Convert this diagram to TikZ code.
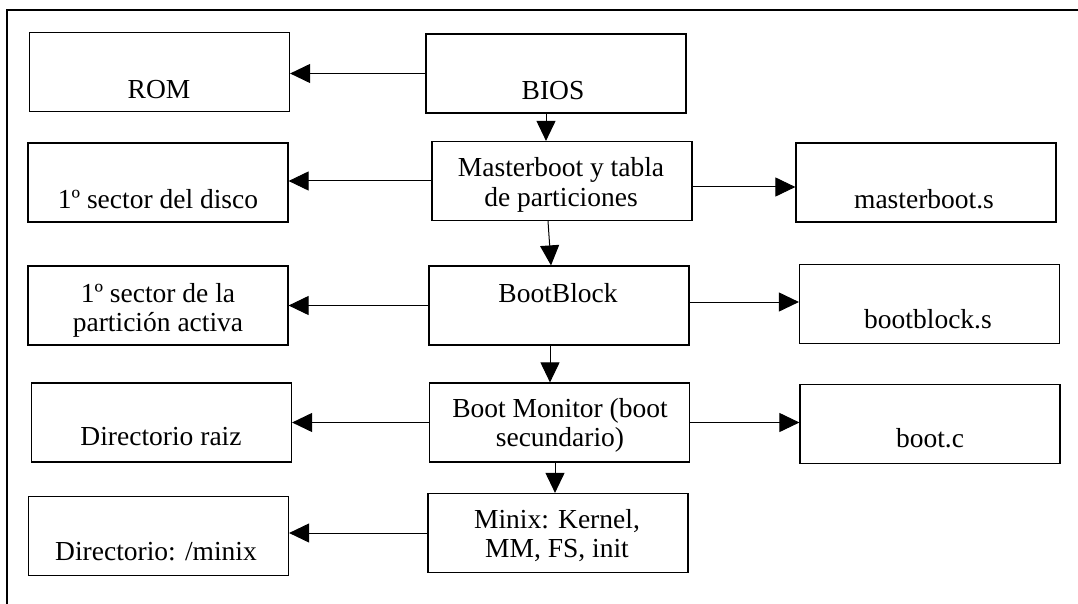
\documentclass[tikz,border=0pt]{standalone}
\usepackage{fontspec}
\setmainfont{Liberation Serif}
\usetikzlibrary{arrows.meta, positioning}

\begin{document}
\begin{tikzpicture}[x=1pt, y=-1pt,
                    caja/.style={draw, line width=1.2pt, minimum width=260pt, minimum height=79pt, inner sep=0pt},
                    texto/.style={anchor=base, align=center, inner sep=0pt, font=\fontsize{27.5}{29}\selectfont},
                    flecha/.style={->, line width=1pt},
                    >={Triangle[length=20pt, width=19pt]}]
                    \useasboundingbox (0,0) rectangle (1078,604);
                    \draw[line width=1.4pt] (1078,10) -- (7,10) -- (7,604);

                    % columna izquierda
                    \node[caja] (rom) at (159.5,72) {};
                    \node[caja] (disco) at (158,182.5) {};
                    \node[caja] (particion) at (158,305.5) {};
                    \node[caja] (raiz) at (161.5,422.5) {};
                    \node[caja] (dirminix) at (158.5,536) {};

                    % columna central
                    \node[caja] (bios) at (556,73.5) {};
                    \node[caja] (master) at (562,181) {};
                    \node[caja] (bootblock) at (559,305.5) {};
                    \node[caja] (monitor) at (559.5,422.5) {};
                    \node[caja] (minix) at (558,533) {};

                    % columna derecha
                    \node[caja] (masters) at (926,182.5) {};
                    \node[caja] (blocks) at (929.5,304) {};
                    \node[caja] (bootc) at (930,424) {};

                    % textos (base = ultima linea)
                    \node[texto] (romt) at (159,99) {ROM};
                    \node[texto] (discot) at (158,208) {1º sector del disco};
                    \node[texto] (particiont) at (158,331) {1º sector de la\\partición activa};
                    \node[texto] (raizt) at (161,445) {Directorio raiz};
                    \node[texto] (dirminixt) at (156,560) {Directorio: /minix};

                    \node[texto] (biost) at (553,100) {BIOS};
                    \node[texto] (mastert) at (561,206) {Masterboot y tabla\\de particiones};
                    \node[texto] (bootblockt) at (558,302) {BootBlock};
                    \node[texto] (monitort) at (560,446) {Boot Monitor (boot\\secundario)};
                    \node[texto] (minixt) at (557,557) {Minix: Kernel,\\MM, FS, init};

                    \node[texto] (masterst) at (924,208) {masterboot.s};
                    \node[texto] (blockst) at (928,328) {bootblock.s};
                    \node[texto] (bootct) at (930,447) {boot.c};

                    % flechas
                    \draw[flecha] (bios.west) -- (bios.west -| rom.east);
                    \draw[flecha] ([xshift=-10pt]bios.south) -- ([xshift=-16pt]master.north);
                    \draw[flecha] (master.west) -- (master.west -| disco.east);
                    \draw[flecha] ([yshift=-6pt]master.east) -- ([yshift=-6pt]master.east -| masters.west);
                    \draw[flecha] ([xshift=-14pt]master.south) -- ([xshift=-8pt]bootblock.north);
                    \draw[flecha] (bootblock.west) -- (bootblock.west -| particion.east);
                    \draw[flecha] ([yshift=3.5pt]bootblock.east) -- ([yshift=3.5pt]bootblock.east -| blocks.west);
                    \draw[flecha] ([xshift=-9pt]bootblock.south) -- ([xshift=-9.5pt]monitor.north);
                    \draw[flecha] (monitor.west) -- (monitor.west -| raiz.east);
                    \draw[flecha] (monitor.east) -- (monitor.east -| bootc.west);
                    \draw[flecha] ([xshift=-4.5pt]monitor.south) -- ([xshift=-3pt]minix.north);
                    \draw[flecha] (minix.west) -- (minix.west -| dirminix.east);
                \end{tikzpicture}
\end{document}
